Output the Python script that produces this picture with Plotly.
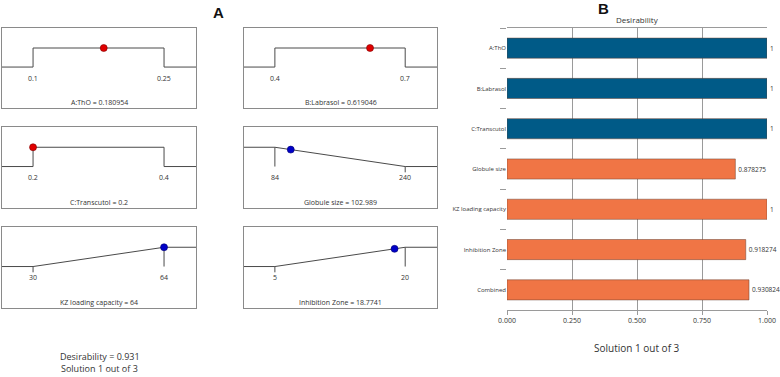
import plotly.graph_objects as go

# ---------------- data ----------------
factor_names = ["A:ThO", "B:Labrasol", "C:Transcutol", "Globule size", "KZ loading capacity", "Inhibition Zone"]
lower_limits = [0.1, 0.4, 0.2, 84, 30, 5]
upper_limits = [0.25, 0.7, 0.4, 240, 64, 20]
solution_values = [0.180954, 0.619046, 0.2, 102.989, 64, 18.7741]
goals = ["range", "range", "range", "minimize", "maximize", "maximize"]
is_factor = [True, True, True, False, False, False]

bar_categories = ["A:ThO", "B:Labrasol", "C:Transcutol", "Globule size",
                  "KZ loading capacity", "Inhibition Zone", "Combined"]
desirability_values = [1, 1, 1, 0.878275, 1, 0.918274, 0.930824]
combined_desirability = 0.931
solution_label = "Solution 1 out of 3"
x_tick_vals = [0, 0.25, 0.5, 0.75, 1.0]
x_tick_text = ["0.000", "0.250", "0.500", "0.750", "1.000"]

# ---------------- style ----------------
W, H = 780, 377
FONT = "Open Sans"
BOX_COLOR = "#8a8a8a"
LINE_COLOR = "#4a4a4a"
BLUE_BAR = "#005a87"
ORANGE_BAR = "#f07545"
col_px = [(2, 196), (244, 437)]
row_px = [(28, 108), (127, 208), (227, 308)]


def px_x(a, b):
    return [a / W, b / W]


def px_y(top, bottom):
    return [1 - bottom / H, 1 - top / H]


fig = go.Figure()
layout = dict(width=W, height=H, margin=dict(l=0, r=0, t=0, b=0, autoexpand=False),
              paper_bgcolor="white", plot_bgcolor="white", showlegend=False,
              font=dict(family=FONT, color="#333333"))
annotations = []

for i, name in enumerate(factor_names):
    n = i + 1
    xa = "x" if n == 1 else f"x{n}"
    ya = "y" if n == 1 else f"y{n}"
    L, U, v, g = lower_limits[i], upper_limits[i], solution_values[i], goals[i]
    span = U - L
    xmin, xmax = L - 0.237 * span, U + 0.244 * span
    if g == "range":
        xs, ys = [xmin, L, L, U, U, xmax], [0, 0, 1, 1, 0, 0]
        d = 1.0 if L <= v <= U else 0.0
        extra = []
    elif g == "minimize":
        xs, ys = [xmin, L, U, xmax], [1, 1, 0, 0]
        d = min(1, max(0, (U - v) / span))
        extra = [([L, L], [1, 0]), ([U, U], [0, -0.3])]
    else:
        xs, ys = [xmin, L, U, xmax], [0, 0, 1, 1]
        d = min(1, max(0, (v - L) / span))
        extra = [([U, U], [1, 0]), ([L, L], [0, -0.3])]
    fig.add_trace(go.Scatter(x=xs, y=ys, mode="lines", xaxis=xa, yaxis=ya,
                             line=dict(color=LINE_COLOR, width=1), hoverinfo="skip"))
    for ex, ey in extra:
        fig.add_trace(go.Scatter(x=ex, y=ey, mode="lines", xaxis=xa, yaxis=ya,
                                 line=dict(color=LINE_COLOR, width=1), hoverinfo="skip"))
    col = "#e00000" if is_factor[i] else "#0000c8"
    edge = "#800000" if is_factor[i] else "#000070"
    fig.add_trace(go.Scatter(x=[v], y=[d], mode="markers", xaxis=xa, yaxis=ya,
                             marker=dict(color=col, size=7, line=dict(color=edge, width=0.6)),
                             cliponaxis=False))
    r, c = i // 2, i % 2
    axkw = dict(showline=True, mirror=True, linecolor=BOX_COLOR, linewidth=1,
                showgrid=False, zeroline=False, showticklabels=False, ticks="",
                fixedrange=True)
    layout["xaxis" if n == 1 else f"xaxis{n}"] = dict(domain=px_x(*col_px[c]), range=[xmin, xmax],
                                                     anchor=ya, **axkw)
    layout["yaxis" if n == 1 else f"yaxis{n}"] = dict(domain=px_y(*row_px[r]), range=[-2.15, 2.05],
                                                     anchor=xa, **axkw)
    for t in (L, U):
        annotations.append(dict(x=t, y=-0.58, xref=xa, yref=ya, text=f"{t:g}", showarrow=False,
                                xanchor="center", yanchor="middle",
                                font=dict(size=7, color="#333333")))
    annotations.append(dict(x=(xmin + xmax) / 2, y=-1.85, xref=xa, yref=ya,
                            text=f"{name} = {v:g}", showarrow=False,
                            xanchor="center", yanchor="middle",
                            font=dict(size=7, color="#333333")))

# ---------------- bar chart B ----------------
bar_colors = [BLUE_BAR if k < 3 else ORANGE_BAR for k in range(len(bar_categories))]
fig.add_trace(go.Bar(
    x=desirability_values, y=bar_categories, orientation="h", xaxis="x7", yaxis="y7",
    marker=dict(color=bar_colors, line=dict(color="#6a4030", width=0.5)),
    text=[f"{v:g}" for v in desirability_values], textposition="outside",
    textfont=dict(size=6.5, color="#333333"), constraintext="none", cliponaxis=False,
))
layout["xaxis7"] = dict(domain=px_x(507, 767), range=[0, 1], anchor="y7",
                        tickvals=x_tick_vals, ticktext=x_tick_text,
                        showgrid=True, gridcolor="#9a9a9a", gridwidth=1, zeroline=False,
                        showline=True, mirror=True, linecolor="#9a9a9a", linewidth=1,
                        ticks="outside", ticklen=4, tickcolor="#9a9a9a",
                        tickfont=dict(size=7, color="#333333"), fixedrange=True)
layout["yaxis7"] = dict(domain=px_y(28, 310), anchor="x7", type="category",
                        categoryorder="array", categoryarray=bar_categories, autorange="reversed",
                        tickson="boundaries", ticks="outside", ticklen=6, tickcolor="#9a9a9a",
                        showline=False, showgrid=False, zeroline=False,
                        tickfont=dict(size=6, color="#333333"), fixedrange=True)
layout["bargap"] = 0.5

# ---------------- texts ----------------
def paper_text(x, y, text, size, family=FONT, color="#333333"):
    return dict(x=x / W, y=1 - y / H, xref="paper", yref="paper", text=text, showarrow=False,
                xanchor="center", yanchor="middle", font=dict(family=family, size=size, color=color))


annotations += [
    paper_text(218, 13, "<b>A</b>", 15, "Liberation Sans", "#111111"),
    paper_text(603, 8, "<b>B</b>", 15, "Liberation Sans", "#111111"),
    paper_text(637, 20, "Desirability", 8),
    paper_text(637, 348, solution_label, 10),
    paper_text(100, 356, f"Desirability = {combined_desirability:g}", 9),
    paper_text(100, 368, solution_label, 9),
]
layout["annotations"] = annotations
fig.update_layout(**layout)
fig.write_html("out.html", config={"displayModeBar": False},
               post_script="document.body.style.margin='0';document.body.style.padding='0';")
